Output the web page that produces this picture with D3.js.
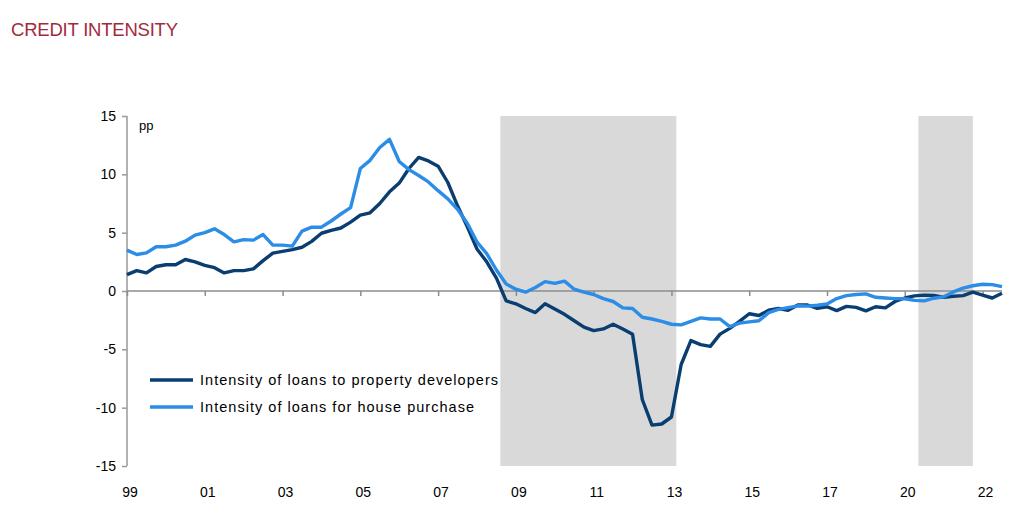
<!DOCTYPE html>
<html lang="en">

<head>
    <meta charset="UTF-8">
    <title>Credit intensity</title>
    <script src="https://cdnjs.cloudflare.com/ajax/libs/d3/7.8.5/d3.min.js"></script>
    <style>
        body {
            margin: 0;
            background-color: white;
            font-family: "Liberation Sans", Arial, sans-serif;
        }

        .axis text {
            font-size: 14px;
            fill: #000;
        }

        .line {
            fill: none;
            stroke-width: 3.4px;
            stroke-linejoin: round;
        }
    </style>
</head>

<body>
    <svg id="chart"></svg>

    <script>
        const width = 1028;
        const height = 506;

        // quarterly observations, 1999 onwards
        const developers = [
            1.4, 1.75, 1.55, 2.1, 2.25, 2.25, 2.7, 2.5, 2.2, 2.0,
            1.55, 1.75, 1.75, 1.9, 2.6, 3.25, 3.4, 3.55, 3.75, 4.25,
            4.95, 5.2, 5.4, 5.9, 6.5, 6.7, 7.5, 8.5, 9.25, 10.5,
            11.45, 11.15, 10.7, 9.3, 7.3, 5.5, 3.6, 2.5, 1.1, -0.85,
            -1.1, -1.5, -1.85, -1.1, -1.55, -2.0, -2.55, -3.1, -3.4, -3.25,
            -2.85, -3.25, -3.7, -9.3, -11.5, -11.4, -10.8, -6.3, -4.25, -4.6,
            -4.75, -3.7, -3.2, -2.6, -1.95, -2.1, -1.65, -1.5, -1.65, -1.2,
            -1.2, -1.48, -1.35, -1.68, -1.32, -1.4, -1.7, -1.35, -1.45, -0.9,
            -0.6, -0.42, -0.35, -0.38, -0.55, -0.45, -0.4, -0.1, -0.35, -0.6,
            -0.2
        ];

        const housePurchase = [
            3.5, 3.13, 3.27, 3.79, 3.79, 3.93, 4.27, 4.79, 5.0, 5.33,
            4.84, 4.21, 4.4, 4.36, 4.84, 3.93, 3.93, 3.85, 5.13, 5.47,
            5.47, 6.0, 6.6, 7.15, 10.5, 11.2, 12.3, 13.0, 11.1, 10.4,
            9.9, 9.35, 8.6, 7.9, 7.0, 5.8, 4.2, 3.2, 1.8, 0.6,
            0.15, -0.1, 0.3, 0.8, 0.65, 0.85, 0.15, -0.1, -0.3, -0.65,
            -0.9, -1.45, -1.5, -2.25, -2.4, -2.6, -2.85, -2.9, -2.6, -2.3,
            -2.4, -2.4, -3.05, -2.75, -2.65, -2.55, -1.85, -1.58, -1.43, -1.27,
            -1.3, -1.22, -1.11, -0.65, -0.4, -0.3, -0.25, -0.54, -0.6, -0.65,
            -0.66, -0.8, -0.85, -0.62, -0.5, -0.08, 0.25, 0.45, 0.58, 0.55,
            0.37
        ];

        const tickLabels = ["99", "01", "03", "05", "07", "09", "11", "13", "15", "17", "20", "22"];
        const labelEvery = 8;

        // shaded periods, in quarter index units
        const shaded = [[38.4, 56.5], [81.4, 87.0]];

        const yTicks = [-15, -10, -5, 0, 5, 10, 15];

        const seriesNames = [
            "Intensity of loans to property developers",
            "Intensity of loans for house purchase"
        ];
        const colors = ["#0a3d70", "#2b8de6"];

        let svg = d3.select("#chart")
            .attr("width", width)
            .attr("height", height);

        let x = d3.scaleLinear()
            .domain([0, developers.length - 1])
            .range([127, 1002]);

        let y = d3.scaleLinear()
            .domain([-15, 15])
            .range([466, 116]);

        // title
        svg.append("text")
            .attr("x", 11)
            .attr("y", 36)
            .attr("font-size", 18.5)
            .attr("textLength", 167)
            .attr("lengthAdjust", "spacing")
            .style("fill", "#a32a3e")
            .text("CREDIT INTENSITY");

        // shaded areas
        svg.selectAll("rect.band")
            .data(shaded)
            .join("rect")
            .attr("class", "band")
            .attr("x", d => x(d[0]))
            .attr("width", d => x(d[1]) - x(d[0]))
            .attr("y", y(15))
            .attr("height", y(-15) - y(15))
            .style("fill", "#d9d9d9");

        // y axis
        let yAxis = svg.append("g")
            .attr("class", "axis")
            .attr("transform", "translate(127,0)")
            .call(d3.axisLeft(y)
                .tickValues(yTicks)
                .tickFormat(d => String(d))
                .tickSize(5)
                .tickPadding(6));
        yAxis.selectAll("line, path").style("stroke", "#999").style("stroke-width", 1.5);
        yAxis.select("path").attr("d", "M0," + y(15) + "V" + y(-15));

        // x axis on the zero line
        let xAxis = svg.append("g")
            .attr("class", "axis")
            .attr("transform", "translate(0," + y(0) + ")")
            .call(d3.axisBottom(x)
                .tickValues(tickLabels.map((d, i) => i * labelEvery))
                .tickSize(5)
                .tickFormat(""));
        xAxis.selectAll("line, path").style("stroke", "#8c8c8c").style("stroke-width", 1.5);
        xAxis.select("path").attr("d", "M" + x(0) + ",0H" + x(developers.length - 1));

        // x labels along the bottom
        svg.append("g")
            .attr("class", "axis")
            .selectAll("text")
            .data(tickLabels)
            .join("text")
            .attr("x", (d, i) => x(i * labelEvery) + 3)
            .attr("y", 497)
            .attr("text-anchor", "middle")
            .text(d => d);

        svg.append("text")
            .attr("x", 139)
            .attr("y", 130)
            .attr("font-size", 13)
            .text("pp");

        // lines
        let line = d3.line()
            .x((d, i) => x(i))
            .y(d => y(d));

        svg.selectAll("path.line")
            .data([developers, housePurchase])
            .join("path")
            .attr("class", "line")
            .attr("d", line)
            .style("stroke", (d, i) => colors[i]);

        // legend
        let legend = svg.append("g")
            .selectAll("g")
            .data(seriesNames)
            .join("g")
            .attr("transform", (d, i) => "translate(150," + (380 + i * 27) + ")");

        legend.append("line")
            .attr("x1", 0)
            .attr("x2", 43)
            .style("stroke", (d, i) => colors[i])
            .style("stroke-width", 3.5);

        legend.append("text")
            .attr("x", 50)
            .attr("y", 5)
            .attr("font-size", 14.5)
            .attr("textLength", (d, i) => i == 0 ? 298 : 274)
            .attr("lengthAdjust", "spacing")
            .text(d => d);
    </script>
</body>

</html>
